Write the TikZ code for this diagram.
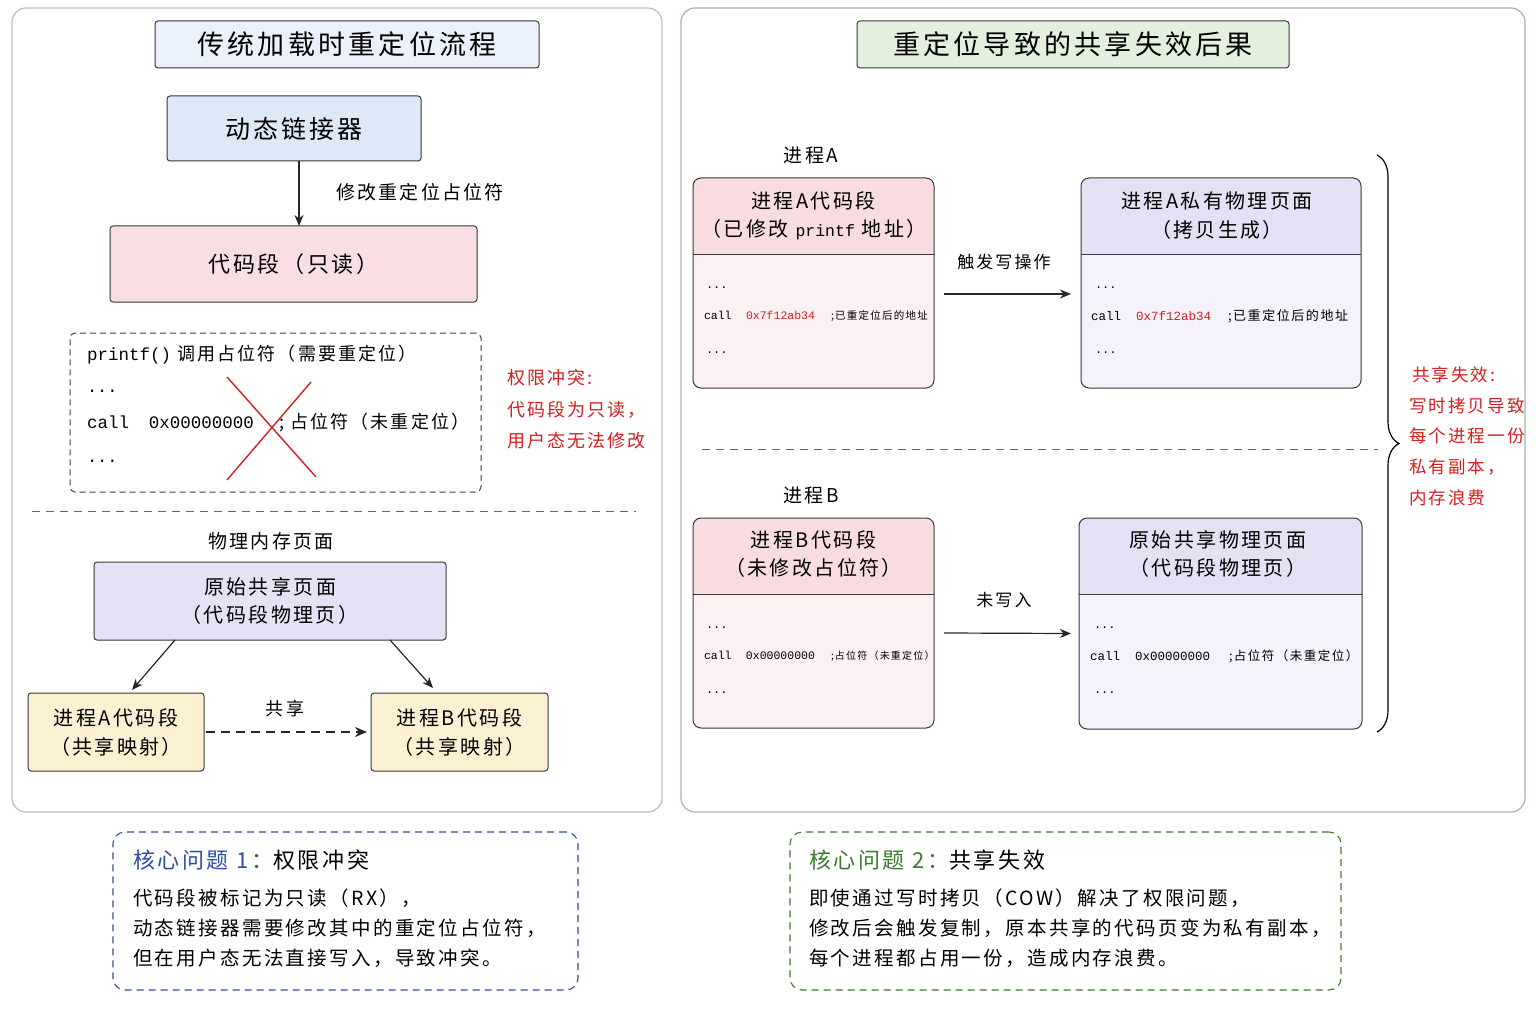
\documentclass[tikz,border=0pt]{standalone}
\usepackage{fontspec}
\setmainfont{Noto Sans CJK SC}[LetterSpace=12]
\setmonofont{Liberation Mono}
\usetikzlibrary{arrows.meta,decorations.pathreplacing,calc}
\newcommand\sz[2]{\fontsize{#1}{#2}\selectfont}
\definecolor{ltblue}{HTML}{EAF1FA}
\definecolor{ldblue}{HTML}{DDE9F7}
\definecolor{pinkbox}{HTML}{F9DEE3}
\definecolor{lavbox}{HTML}{E7E1F6}
\definecolor{yelbox}{HTML}{FBF0D2}
\definecolor{ltgreen}{HTML}{E3F0DD}
\definecolor{pinkhead}{HTML}{F8DCDF}
\definecolor{pinkbody}{HTML}{FCF1F2}
\definecolor{lavhead}{HTML}{E6E0F4}
\definecolor{lavbody}{HTML}{F5F2FB}
\definecolor{redtxt}{HTML}{D42020}
\definecolor{bluetxt}{HTML}{2F4E9E}
\definecolor{greentxt}{HTML}{3C7A2E}
\definecolor{graypanel}{HTML}{BDBDBD}
\definecolor{greenpanel}{HTML}{A3B8A3}
\begin{document}
\begin{tikzpicture}[x=1pt,y=-1pt,
  panel/.style={draw=#1, line width=1.2pt, rounded corners=14pt},
  solidbox/.style={draw=black!78, line width=1pt, rounded corners=3pt, inner sep=0pt, outer sep=0pt, align=center},
  splitbox/.style={inner sep=0pt, outer sep=0pt},
  boxline/.style={draw=black!78, line width=1pt},
  txt/.style={inner sep=0pt, outer sep=0pt, align=center},
  lt/.style={inner sep=0pt, outer sep=0pt, anchor=west},
  arr/.style={-{Stealth[length=11pt,width=9pt,inset=3.5pt]}, line width=1.2pt, draw=black!85},
  sep/.style={draw=black!60, line width=1pt, dash pattern=on 8pt off 6pt},
  corebox/.style={draw=#1, line width=1.1pt, dash pattern=on 7pt off 5pt, rounded corners=12pt, inner sep=0pt, outer sep=0pt},
]
\useasboundingbox (0,0) rectangle (1536,1024);
\fill[white] (0,0) rectangle (1536,1024);

% ---------- panels ----------
\draw[panel=graypanel] (12,8) rectangle (662,812);
\draw[panel=greenpanel] (681,8) rectangle (1525,812);

% ---------- left panel ----------
\node[solidbox, fill=ltblue, minimum width=384pt, minimum height=47pt, font=\sz{27}{32}] (t1) at (347,44.5) {传统加载时重定位流程};
\node[solidbox, fill=ldblue, minimum width=254pt, minimum height=65pt, font=\sz{25}{30}] (ld) at (294,128.5) {动态链接器};
\node[solidbox, fill=pinkbox, minimum width=367pt, minimum height=76pt, font=\sz{22}{28}] (cs) at (293.5,264) {代码段（只读）};
\draw[arr] ([xshift=5pt]ld.south) -- ([xshift=5pt]ld.south |- cs.north);
\node[txt, font=\sz{19}{24}] (lbl1) at (420,192) {修改重定位占位符};

\node[draw=black!75, line width=1pt, dash pattern=on 6pt off 4pt, rounded corners=5pt, minimum width=411pt, minimum height=159pt, inner sep=0pt] (dbox) at (275.5,412.5) {};
\node[lt, font=\sz{18}{22}] (l1) at (87,355) {{\ttfamily\sz{17.5}{22}printf()} 调用占位符（需要重定位）};
\node[lt, font=\ttfamily\sz{17}{22}] (l2) at (87,391) {...};
\node[lt, font=\sz{18}{22}] (l3) at (87,423) {\makebox[62pt][l]{\ttfamily\sz{17.5}{22}call}\makebox[130pt][l]{\ttfamily\sz{17.5}{22}0x00000000}; 占位符（未重定位）};
\node[lt, font=\ttfamily\sz{17}{22}] (l4) at (87,461) {...};
\draw[redtxt, line width=1.4pt] (227,377) -- (316,477);
\draw[redtxt, line width=1.4pt] (311,382) -- (227,480);

\node[lt, font=\sz{18}{22}, text=redtxt] (r1) at (507,378) {权限冲突:};
\node[lt, font=\sz{18}{22}, text=redtxt] (r2) at (507,410) {代码段为只读，};
\node[lt, font=\sz{18}{22}, text=redtxt] (r3) at (507,441) {用户态无法修改};

\draw[sep] (32,511) -- (636,511);
\node[txt, font=\sz{19}{24}] (pm) at (271,541) {物理内存页面};
\node[solidbox, fill=lavbox, minimum width=352pt, minimum height=78pt, font=\sz{20}{28}] (pg) at (270,601) {原始共享页面\\（代码段物理页）};
\node[solidbox, fill=yelbox, minimum width=176pt, minimum height=78pt, font=\sz{20}{29}] (pa1) at (116,732) {进程A代码段\\（共享映射）};
\node[solidbox, fill=yelbox, minimum width=177pt, minimum height=78pt, font=\sz{20}{29}] (pb1) at (459.5,732) {进程B代码段\\（共享映射）};
\draw[arr] ([xshift=81pt]pg.south west) -- ([xshift=104pt,yshift=3pt]pa1.north west);
\draw[arr] ([xshift=296pt]pg.south west) -- ([xshift=62pt,yshift=5pt]pb1.north west);
\draw[line width=2.6pt, draw=black!85, dash pattern=on 9pt off 6pt, -{Stealth[length=12pt,width=10pt,inset=4pt]}] ([xshift=2pt]pa1.east) -- ([xshift=-4pt]pb1.west);
\node[txt, font=\sz{18}{22}] (share) at (285,709) {共享};

% ---------- right panel ----------
\node[solidbox, fill=ltgreen, minimum width=432pt, minimum height=47pt, font=\sz{27}{32}] (t2) at (1073,44.5) {重定位导致的共享失效后果};
\node[txt, font=\sz{19}{24}] (pA) at (811,155) {进程A};
\node[txt, font=\sz{19}{24}] (pB) at (811,495) {进程B};

% box PA
\node[splitbox, minimum width=241pt, minimum height=210pt, fill=pinkbody, rounded corners=8pt] (PA) at (813.5,283) {};
\begin{scope}
\clip[rounded corners=8pt] (PA.north west) rectangle (PA.south east);
\fill[pinkhead] (PA.north west) rectangle ([yshift=-77pt]PA.north east);
\end{scope}
\draw[boxline] ([yshift=-77pt]PA.north west) -- ([yshift=-77pt]PA.north east);
\draw[boxline, rounded corners=8pt] (PA.north west) rectangle (PA.south east);
\node[txt, font=\sz{20}{24}] (PAh1) at (813.5,201) {进程A代码段};
\node[txt, font=\sz{20}{24}] (PAh2) at (814,230) {（已修改 {\ttfamily\sz{16.5}{24}printf} 地址）};
\node[lt, font=\ttfamily\sz{12}{14}] (PAd1) at (706,288) {...};
\node[lt, font=\sz{10.5}{14}] (PAc) at (704,316) {\makebox[42pt][l]{\ttfamily\sz{11.5}{14}call}\makebox[85pt][l]{\ttfamily\sz{11.5}{14}\color{redtxt}0x7f12ab34};已重定位后的地址};
\node[lt, font=\ttfamily\sz{12}{14}] (PAd2) at (706,353) {...};

% box PPriv
\node[splitbox, minimum width=280pt, minimum height=210pt, fill=lavbody, rounded corners=8pt] (PP) at (1221,283) {};
\begin{scope}
\clip[rounded corners=8pt] (PP.north west) rectangle (PP.south east);
\fill[lavhead] (PP.north west) rectangle ([yshift=-77pt]PP.north east);
\end{scope}
\draw[boxline] ([yshift=-77pt]PP.north west) -- ([yshift=-77pt]PP.north east);
\draw[boxline, rounded corners=8pt] (PP.north west) rectangle (PP.south east);
\node[txt, font=\sz{20}{24}] (PPh1) at (1217,201) {进程A私有物理页面};
\node[txt, font=\sz{20}{24}] (PPh2) at (1217,230) {（拷贝生成）};
\node[lt, font=\ttfamily\sz{12}{14}] (PPd1) at (1095,288) {...};
\node[lt, font=\sz{13}{16}] (PPc) at (1091,316) {\makebox[45pt][l]{\ttfamily\sz{12.5}{14}call}\makebox[92pt][l]{\ttfamily\sz{12.5}{14}\color{redtxt}0x7f12ab34};已重定位后的地址};
\node[lt, font=\ttfamily\sz{12}{14}] (PPd2) at (1095,353) {...};

\draw[arr] ([shift={(10pt,-11pt)}]PA.east) -- ([shift={(-10pt,-11pt)}]PP.west);
\node[txt, font=\sz{17}{22}] (wr) at (1004,262) {触发写操作};

\draw[sep] (702,449) -- (1378,449);

% box PB
\node[splitbox, minimum width=241pt, minimum height=210pt, fill=pinkbody, rounded corners=8pt] (PB) at (813.5,623) {};
\begin{scope}
\clip[rounded corners=8pt] (PB.north west) rectangle (PB.south east);
\fill[pinkhead] (PB.north west) rectangle ([yshift=-76pt]PB.north east);
\end{scope}
\draw[boxline] ([yshift=-76pt]PB.north west) -- ([yshift=-76pt]PB.north east);
\draw[boxline, rounded corners=8pt] (PB.north west) rectangle (PB.south east);
\node[txt, font=\sz{20}{24}] (PBh1) at (813.5,540) {进程B代码段};
\node[txt, font=\sz{20}{24}] (PBh2) at (813.5,568) {（未修改占位符）};
\node[lt, font=\ttfamily\sz{12}{14}] (PBd1) at (706,628) {...};
\node[lt, font=\sz{10}{14}] (PBc) at (704,656) {\makebox[42pt][l]{\ttfamily\sz{11.5}{14}call}\makebox[85pt][l]{\ttfamily\sz{11.5}{14}0x00000000};占位符（未重定位）};
\node[lt, font=\ttfamily\sz{12}{14}] (PBd2) at (706,693) {...};

% box PS
\node[splitbox, minimum width=283pt, minimum height=211pt, fill=lavbody, rounded corners=8pt] (PS) at (1220.5,623.5) {};
\begin{scope}
\clip[rounded corners=8pt] (PS.north west) rectangle (PS.south east);
\fill[lavhead] (PS.north west) rectangle ([yshift=-76pt]PS.north east);
\end{scope}
\draw[boxline] ([yshift=-76pt]PS.north west) -- ([yshift=-76pt]PS.north east);
\draw[boxline, rounded corners=8pt] (PS.north west) rectangle (PS.south east);
\node[txt, font=\sz{20}{24}] (PSh1) at (1218,540) {原始共享物理页面};
\node[txt, font=\sz{20}{24}] (PSh2) at (1218,568) {（代码段物理页）};
\node[lt, font=\ttfamily\sz{12}{14}] (PSd1) at (1094,628) {...};
\node[lt, font=\sz{12.5}{16}] (PSc) at (1090,656) {\makebox[45pt][l]{\ttfamily\sz{12.5}{14}call}\makebox[94pt][l]{\ttfamily\sz{12.5}{14}0x00000000};占位符（未重定位）};
\node[lt, font=\ttfamily\sz{12}{14}] (PSd2) at (1094,693) {...};

\draw[arr] ([shift={(10pt,-10pt)}]PB.east) -- ([shift={(-8pt,-10pt)}]PS.west);
\node[txt, font=\sz{17}{22}] (nw) at (1004,600) {未写入};

% brace
\coordinate (brt) at (1377,155);
\coordinate (brb) at (1377,732);
\draw[line width=1.2pt, decorate, decoration={brace, amplitude=22pt}] (brt) -- (brb);
\node[lt, font=\sz{17.5}{22}, text=redtxt] (s1) at (1412,375) {共享失效:};
\node[lt, font=\sz{17.5}{22}, text=redtxt] (s2) at (1409,406) {写时拷贝导致};
\node[lt, font=\sz{17.5}{22}, text=redtxt] (s3) at (1409,436) {每个进程一份};
\node[lt, font=\sz{17.5}{22}, text=redtxt] (s4) at (1409,467) {私有副本，};
\node[lt, font=\sz{17.5}{22}, text=redtxt] (s5) at (1409,498) {内存浪费};

% ---------- core problem boxes ----------
\node[corebox=bluetxt, minimum width=465pt, minimum height=158pt] (c1) at (345.5,911) {};
\node[lt, font=\sz{22}{26}] (c1t) at (133,860) {{\color{bluetxt}核心问题 1：}权限冲突};
\node[lt, font=\sz{19.5}{24}] (c1a) at (133,898) {代码段被标记为只读（RX），};
\node[lt, font=\sz{19.5}{24}] (c1b) at (133,928) {动态链接器需要修改其中的重定位占位符，};
\node[lt, font=\sz{19.5}{24}] (c1c) at (133,958) {但在用户态无法直接写入，导致冲突。};

\node[corebox=greentxt, minimum width=551pt, minimum height=158pt] (c2) at (1065.5,911) {};
\node[lt, font=\sz{22}{26}] (c2t) at (809,860) {{\color{greentxt}核心问题 2：}共享失效};
\node[lt, font=\sz{19.5}{24}] (c2a) at (809,898) {即使通过写时拷贝（COW）解决了权限问题，};
\node[lt, font=\sz{19.5}{24}] (c2b) at (809,928) {修改后会触发复制，原本共享的代码页变为私有副本，};
\node[lt, font=\sz{19.5}{24}] (c2c) at (809,958) {每个进程都占用一份，造成内存浪费。};
\end{tikzpicture}
\end{document}
